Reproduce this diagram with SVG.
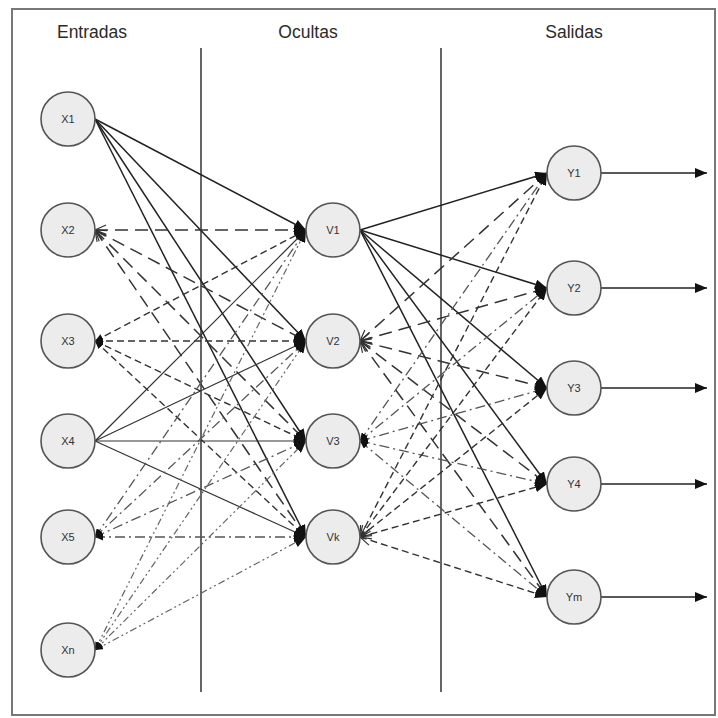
<svg xmlns="http://www.w3.org/2000/svg" width="718" height="718" viewBox="0 0 718 718">
<style>
.node circle{fill:#ececec;stroke:#555;stroke-width:1.6}
.node text{font-family:"Liberation Sans",Arial,sans-serif;font-size:11px;fill:#333;text-anchor:middle;dominant-baseline:central}
.title{font-family:"Liberation Sans",Arial,sans-serif;font-size:17.5px;fill:#2a2a2a;text-anchor:middle}
.sep{stroke:#333;stroke-width:1.5}
#connectors line{fill:none}
.s1{stroke:#222;stroke-width:1.5;marker-end:url(#ah)}
.s2{stroke:#333;stroke-width:1.5;stroke-dasharray:13 7;marker-end:url(#ah);marker-start:url(#aho)}
.s3{stroke:#333;stroke-width:1.4;stroke-dasharray:7 4;marker-end:url(#ah);marker-start:url(#ahs)}
.s3o{stroke:#333;stroke-width:1.4;stroke-dasharray:7 4;marker-end:url(#ah);marker-start:url(#aho)}
.s4{stroke:#333;stroke-width:1.2;marker-end:url(#ah)}
.s5{stroke:#555;stroke-width:1.3;stroke-dasharray:10 4 2 4;marker-end:url(#ah);marker-start:url(#ahs)}
.s6{stroke:#666;stroke-width:1.2;stroke-dasharray:7 3 2 3 2 3;marker-end:url(#ah);marker-start:url(#ahs)}
.out{stroke:#222;stroke-width:1.5;marker-end:url(#ah)}
</style>
<defs>
<marker id="ah" markerUnits="userSpaceOnUse" markerWidth="12" markerHeight="10" refX="12" refY="5" orient="auto">
<path d="M0,0 L12,5 L0,10 z" fill="#111"/>
</marker>
<marker id="ahs" markerUnits="userSpaceOnUse" markerWidth="8" markerHeight="7" refX="8" refY="3.5" orient="auto-start-reverse">
<path d="M0,0 L8,3.5 L0,7 z" fill="#111"/>
</marker>
<marker id="aho" markerUnits="userSpaceOnUse" markerWidth="14" markerHeight="12" refX="12" refY="6" orient="auto-start-reverse">
<path d="M1,1 L12,6 L1,11" fill="none" stroke="#333" stroke-width="1.2"/>
</marker>
</defs>
<rect x="12" y="9" width="703" height="706" fill="#fff" stroke="#777" stroke-width="2"/>
<text class="title" x="92" y="38">Entradas</text>
<text class="title" x="308" y="38">Ocultas</text>
<text class="title" x="574" y="38">Salidas</text>
<line class="sep" x1="201" y1="48" x2="201" y2="692"/>
<line class="sep" x1="441" y1="48" x2="441" y2="692"/>
<g id="connectors">
<!-- X1 solid -->
<line class="s1" x1="95" y1="119" x2="306" y2="230"/>
<line class="s1" x1="95" y1="119" x2="306" y2="341"/>
<line class="s1" x1="95" y1="119" x2="306" y2="441"/>
<line class="s1" x1="95" y1="119" x2="306" y2="537"/>
<!-- X2 long dash -->
<line class="s2" x1="95" y1="230" x2="306" y2="230"/>
<line class="s2" x1="95" y1="230" x2="306" y2="341"/>
<line class="s2" x1="95" y1="230" x2="306" y2="441"/>
<line class="s2" x1="95" y1="230" x2="306" y2="537"/>
<!-- X3 medium dash -->
<line class="s3" x1="95" y1="341" x2="306" y2="230"/>
<line class="s3" x1="95" y1="341" x2="306" y2="341"/>
<line class="s3" x1="95" y1="341" x2="306" y2="441"/>
<line class="s3" x1="95" y1="341" x2="306" y2="537"/>
<!-- X4 thin solid -->
<line class="s4" x1="95" y1="441" x2="306" y2="230"/>
<line class="s4" x1="95" y1="441" x2="306" y2="341"/>
<line class="s4" x1="95" y1="441" x2="306" y2="441"/>
<line class="s4" x1="95" y1="441" x2="306" y2="537"/>
<!-- X5 dash-dot -->
<line class="s5" x1="95" y1="537" x2="306" y2="230"/>
<line class="s5" x1="95" y1="537" x2="306" y2="341"/>
<line class="s5" x1="95" y1="537" x2="306" y2="441"/>
<line class="s5" x1="95" y1="537" x2="306" y2="537"/>
<!-- Xn dash-dot-dot -->
<line class="s6" x1="95" y1="650" x2="306" y2="230"/>
<line class="s6" x1="95" y1="650" x2="306" y2="341"/>
<line class="s6" x1="95" y1="650" x2="306" y2="441"/>
<line class="s6" x1="95" y1="650" x2="306" y2="537"/>
<!-- V1 solid -->
<line class="s1" x1="360" y1="230" x2="547" y2="173"/>
<line class="s1" x1="360" y1="230" x2="547" y2="288"/>
<line class="s1" x1="360" y1="230" x2="547" y2="388"/>
<line class="s1" x1="360" y1="230" x2="547" y2="484"/>
<line class="s1" x1="360" y1="230" x2="547" y2="597"/>
<!-- V2 long dash -->
<line class="s2" x1="360" y1="341" x2="547" y2="173"/>
<line class="s2" x1="360" y1="341" x2="547" y2="288"/>
<line class="s2" x1="360" y1="341" x2="547" y2="388"/>
<line class="s2" x1="360" y1="341" x2="547" y2="484"/>
<line class="s2" x1="360" y1="341" x2="547" y2="597"/>
<!-- V3 dash-dot -->
<line class="s5" x1="360" y1="441" x2="547" y2="173"/>
<line class="s5" x1="360" y1="441" x2="547" y2="288"/>
<line class="s5" x1="360" y1="441" x2="547" y2="388"/>
<line class="s5" x1="360" y1="441" x2="547" y2="484"/>
<line class="s5" x1="360" y1="441" x2="547" y2="597"/>
<!-- Vk medium dash -->
<line class="s3o" x1="360" y1="537" x2="547" y2="173"/>
<line class="s3o" x1="360" y1="537" x2="547" y2="288"/>
<line class="s3o" x1="360" y1="537" x2="547" y2="388"/>
<line class="s3o" x1="360" y1="537" x2="547" y2="484"/>
<line class="s3o" x1="360" y1="537" x2="547" y2="597"/>
<!-- outputs -->
<line class="out" x1="601" y1="173" x2="707" y2="173"/>
<line class="out" x1="601" y1="288" x2="707" y2="288"/>
<line class="out" x1="601" y1="388" x2="707" y2="388"/>
<line class="out" x1="601" y1="484" x2="707" y2="484"/>
<line class="out" x1="601" y1="597" x2="707" y2="597"/>
</g>
<g id="X1" class="node"><circle cx="68" cy="119" r="27"/><text x="68" y="119">X1</text></g>
<g id="X2" class="node"><circle cx="68" cy="230" r="27"/><text x="68" y="230">X2</text></g>
<g id="X3" class="node"><circle cx="68" cy="341" r="27"/><text x="68" y="341">X3</text></g>
<g id="X4" class="node"><circle cx="68" cy="441" r="27"/><text x="68" y="441">X4</text></g>
<g id="X5" class="node"><circle cx="68" cy="537" r="27"/><text x="68" y="537">X5</text></g>
<g id="Xn" class="node"><circle cx="68" cy="650" r="27"/><text x="68" y="650">Xn</text></g>
<g id="V1" class="node"><circle cx="333" cy="230" r="27"/><text x="333" y="230">V1</text></g>
<g id="V2" class="node"><circle cx="333" cy="341" r="27"/><text x="333" y="341">V2</text></g>
<g id="V3" class="node"><circle cx="333" cy="441" r="27"/><text x="333" y="441">V3</text></g>
<g id="Vk" class="node"><circle cx="333" cy="537" r="27"/><text x="333" y="537">Vk</text></g>
<g id="Y1" class="node"><circle cx="574" cy="173" r="27"/><text x="574" y="173">Y1</text></g>
<g id="Y2" class="node"><circle cx="574" cy="288" r="27"/><text x="574" y="288">Y2</text></g>
<g id="Y3" class="node"><circle cx="574" cy="388" r="27"/><text x="574" y="388">Y3</text></g>
<g id="Y4" class="node"><circle cx="574" cy="484" r="27"/><text x="574" y="484">Y4</text></g>
<g id="Ym" class="node"><circle cx="574" cy="597" r="27"/><text x="574" y="597">Ym</text></g>
</svg>
